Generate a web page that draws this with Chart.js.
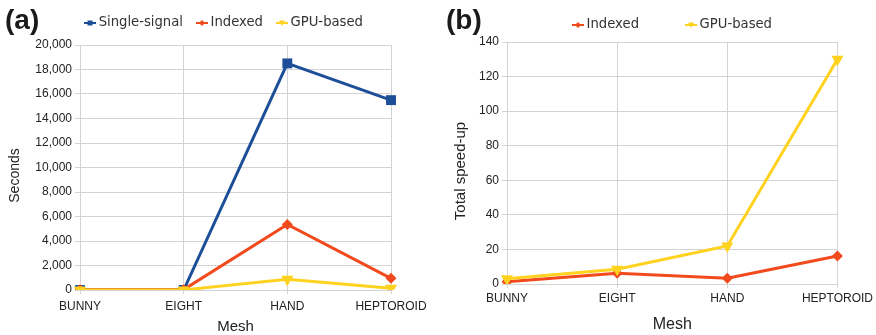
<!DOCTYPE html>
<html>
<head>
<meta charset="utf-8">
<script src="https://cdn.jsdelivr.net/npm/chart.js@4/dist/chart.umd.min.js"></script>
<style>
  body { margin: 0; background: #fff; width: 876px; height: 335px; position: relative; overflow: hidden; }
  canvas { position: absolute; top: 0; }
  .tag { position: absolute; top: 6px; font: bold 28px 'Liberation Sans', Arial, sans-serif; color: #1a1a1a; line-height: 1; }
</style>
</head>
<body>
<canvas id="chartA" width="438" height="335" style="left:0"></canvas>
<canvas id="chartB" width="436" height="335" style="left:440px"></canvas>
<div class="tag" style="left:5px">(a)</div>
<div class="tag" style="left:446px">(b)</div>
<script>
// values
const MESHES = ['BUNNY', 'EIGHT', 'HAND', 'HEPTOROID'];
const SECONDS_SINGLE = [0, 0, 18500, 15500];
const SECONDS_INDEXED = [20, 30, 5350, 950];
const SECONDS_GPU = [10, 10, 880, 150];
const SECONDS_MAX = 20000, SECONDS_STEP = 2000;
const SPEEDUP_INDEXED = [1.3, 6.2, 3.3, 16.2];
const SPEEDUP_GPU = [3, 8.5, 22, 130];
const SPEEDUP_MAX = 140, SPEEDUP_STEP = 20;

const BLUE = '#1d4f99', RED = '#f24a1d', YELLOW = '#ffd21f';
const GRID = '#d3d3d3';
const TICK_FONT = { family: 'Liberation Sans', size: 12 };

// little line + marker picture for the legend
function legendIcon(color, style) {
  const c = document.createElement('canvas');
  c.width = 12; c.height = 8;
  const g = c.getContext('2d');
  g.strokeStyle = color; g.fillStyle = color; g.lineWidth = 2;
  g.beginPath(); g.moveTo(0, 4); g.lineTo(12, 4); g.stroke();
  g.beginPath();
  if (style === 'rect') g.rect(3.5, 1.5, 5, 5);
  else if (style === 'rectRot') { g.moveTo(6, 1); g.lineTo(9, 4); g.lineTo(6, 7); g.lineTo(3, 4); }
  else { g.moveTo(3, 1.5); g.lineTo(9, 1.5); g.lineTo(6, 7); }
  g.fill();
  return c;
}

function series(label, data, color, style, order) {
  const tri = style === 'triangle';
  return {
    label, data, order,
    borderColor: color, backgroundColor: color,
    pointBackgroundColor: color, pointBorderColor: color,
    borderWidth: 3, tension: 0,
    pointStyle: style, pointRotation: tri ? 180 : 0,
    pointRadius: style === 'rect' ? 7 : tri ? 7 : 5.5, pointBorderWidth: 0,
    legendIcon: legendIcon(color, style),
  };
}

// legend: fixed height, text row moved to a given y, row nudged sideways;
// y title pushed down a little like in the original
const tweaks = {
  id: 'tweaks',
  beforeInit(chart) {
    const lg = chart.legend, fit = lg.fit;
    lg.fit = function () { fit.call(this); this.height = chart.options.plugins.tweaks.height; };
  },
  afterLayout(chart, args, opts) {
    const lg = chart.legend, lab = lg.options.labels;
    // only move the top, so the clip box still holds the text
    lg.top += opts.textY - (lg.top + lab.padding + lab.font.size / 2);
    lg.left += opts.xShift; lg.right += opts.xShift;

    const y = chart.scales.y;
    if (!y._titlePatched) {
      const drawTitle = y.drawTitle;
      y.drawTitle = function () {
        this.ctx.save();
        this.ctx.translate(0, opts.yTitleShift);
        drawTitle.call(this);
        this.ctx.restore();
      };
      y._titlePatched = true;
    }
  },
};

function makeChart(id, p) {
  return new Chart(document.getElementById(id), {
    type: 'line',
    data: { labels: MESHES, datasets: p.datasets },
    plugins: [tweaks],
    options: {
      responsive: false, animation: false, devicePixelRatio: 1,
      layout: { padding: { left: 0, right: p.padRight, top: 0, bottom: 0 } },
      plugins: {
        tweaks: { height: p.top, textY: p.legendY, xShift: p.legendShift, yTitleShift: 8 },
        tooltip: { enabled: false },
        legend: {
          position: 'top',
          labels: {
            usePointStyle: true, pointStyleWidth: 4, padding: p.legendGap, color: '#333',
            font: { family: 'DejaVu Sans', size: 13.2 },
            generateLabels: chart => chart.data.datasets.map((ds, i) => ({
              text: ds.label, datasetIndex: i, pointStyle: ds.legendIcon, hidden: false,
              lineWidth: 0, fillStyle: ds.borderColor, strokeStyle: ds.borderColor, fontColor: '#333',
            })),
          },
        },
      },
      scales: {
        x: {
          offset: false,
          grid: { color: GRID, tickLength: 4 },
          border: { color: GRID },
          ticks: { color: '#222', font: TICK_FONT, padding: p.xTickPad, maxRotation: 0, autoSkip: false },
          title: { display: true, text: 'Mesh', color: '#222', font: { family: 'Liberation Sans', size: p.meshSize }, padding: { top: 0, bottom: p.meshPad } },
          afterFit: s => { s.height = p.xHeight; },
        },
        y: {
          min: 0, max: p.max,
          grid: { color: GRID, tickLength: 5 },
          border: { color: GRID },
          ticks: { stepSize: p.step, color: '#222', font: TICK_FONT, padding: 3, callback: v => v.toLocaleString('en-US') },
          title: { display: true, text: p.yTitle, color: '#222', font: { family: 'Liberation Sans', size: p.yTitleSize }, padding: { top: p.yTitlePad, bottom: 0 } },
          afterFit: s => { s.width = p.yWidth; },
        },
      },
    },
  });
}

makeChart('chartA', {
  datasets: [
    series('Single-signal', SECONDS_SINGLE, BLUE, 'rect', 2),
    series('Indexed', SECONDS_INDEXED, RED, 'rectRot', 1),
    series('GPU-based', SECONDS_GPU, YELLOW, 'triangle', 0),
  ],
  max: SECONDS_MAX, step: SECONDS_STEP, yTitle: 'Seconds', yTitleSize: 14,
  top: 45, legendY: 23, legendGap: 17, legendShift: 30, padRight: 47, yWidth: 80, yTitlePad: 7,
  xHeight: 45, xTickPad: 5, meshSize: 15, meshPad: -1,
});

makeChart('chartB', {
  datasets: [
    series('Indexed', SPEEDUP_INDEXED, RED, 'rectRot', 1),
    series('GPU-based', SPEEDUP_GPU, YELLOW, 'triangle', 0),
  ],
  max: SPEEDUP_MAX, step: SPEEDUP_STEP, yTitle: 'Total speed-up', yTitleSize: 15,
  top: 42, legendY: 25, legendGap: 50, legendShift: 35, padRight: 38, yWidth: 67, yTitlePad: 12,
  xHeight: 51, xTickPad: 3, meshSize: 16, meshPad: 1,
});
</script>
</body>
</html>
